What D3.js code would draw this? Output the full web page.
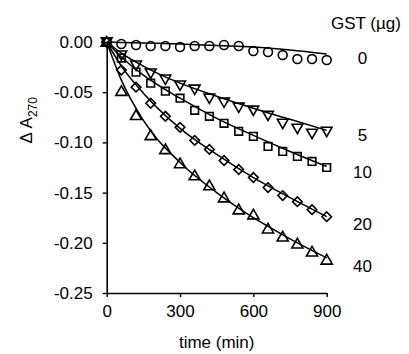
<!DOCTYPE html>
<html>
<head>
<meta charset="utf-8">
<script src="https://cdn.jsdelivr.net/npm/d3@7"></script>
<style>
  html, body { margin: 0; padding: 0; background: #fff; }
  text { font-family: Arial, "Liberation Sans", sans-serif; fill: #000; }
</style>
</head>
<body>
<div id="chart"></div>
<script>
// measured points, every 60 min
const times = [0, 60, 120, 180, 240, 300, 360, 420, 480, 540, 600, 660, 720, 780, 840, 900];
const gst0  = [0, -0.002, -0.003, -0.004, -0.004, -0.005, -0.004, -0.004, -0.003, -0.004, -0.009, -0.010, -0.013, -0.017, -0.017, -0.018];
const gst5  = [0, -0.013, -0.023, -0.031, -0.037, -0.043, -0.047, -0.056, -0.060, -0.065, -0.068, -0.073, -0.081, -0.086, -0.091, -0.089];
const gst10 = [0, -0.016, -0.030, -0.041, -0.049, -0.056, -0.068, -0.074, -0.081, -0.089, -0.094, -0.104, -0.109, -0.114, -0.119, -0.125];
const gst20 = [0, -0.028, -0.045, -0.061, -0.074, -0.085, -0.098, -0.107, -0.118, -0.127, -0.135, -0.145, -0.153, -0.159, -0.167, -0.174];
const gst40 = [0, -0.049, -0.073, -0.093, -0.107, -0.121, -0.133, -0.143, -0.155, -0.167, -0.172, -0.186, -0.194, -0.201, -0.209, -0.217];

// fitted curves
const fitTimes = [0, 60, 150, 300, 450, 600, 750, 900];
const fit0  = [0, -0.0004, -0.001, -0.002, -0.0035, -0.005, -0.008, -0.012];
const fit5  = [0, -0.011, -0.024, -0.041, -0.054, -0.066, -0.077, -0.088];
const fit10 = [0, -0.015, -0.033, -0.056, -0.076, -0.093, -0.109, -0.124];
const fit20 = [0, -0.024, -0.051, -0.086, -0.112, -0.135, -0.155, -0.174];
const fit40 = [0, -0.038, -0.078, -0.120, -0.150, -0.175, -0.196, -0.215];

const seriesNames = ["0", "5", "10", "20", "40"];
const xTicks = [0, 300, 600, 900];
const yTicks = [0, -0.05, -0.10, -0.15, -0.20, -0.25];

const width = 409, height = 354;
const margin = { left: 106.7, right: 82.3, top: 42, bottom: 61 };
const fontSize = "17px";

const svg = d3.select("#chart").append("svg")
    .attr("width", width)
    .attr("height", height);

const x = d3.scaleLinear().domain([0, 900]).range([margin.left, width - margin.right]);
const y = d3.scaleLinear().domain([-0.25, 0]).range([height - margin.bottom, margin.top]);

// axes
const xAxis = svg.append("g")
    .attr("transform", `translate(0,${y(-0.25)})`)
    .call(d3.axisBottom(x).tickValues(xTicks).tickSize(4).tickPadding(8).tickSizeOuter(0));
const yAxis = svg.append("g")
    .attr("transform", `translate(${x(0)},0)`)
    .call(d3.axisLeft(y).tickValues(yTicks).tickFormat(d3.format(".2f")).tickSize(4).tickPadding(10).tickSizeOuter(0));

[xAxis, yAxis].forEach(g => {
    g.select(".domain").attr("stroke", "#000").attr("stroke-width", 1.6);
    g.selectAll(".tick line").attr("stroke", "#000").attr("stroke-width", 1.4);
    g.selectAll(".tick text").style("font-size", fontSize).attr("font-family", "Arial, 'Liberation Sans', sans-serif");
});
yAxis.selectAll(".tick text").text(d => d3.format(".2f")(d).replace("−", "-"));

// axis titles
svg.append("text")
    .attr("x", x(450))
    .attr("y", 348)
    .attr("text-anchor", "middle")
    .style("font-size", fontSize)
    .text("time (min)");

const yl = svg.append("text")
    .attr("transform", `translate(32,${y(-0.078)}) rotate(-90)`)
    .attr("text-anchor", "middle")
    .style("font-size", fontSize);
yl.append("tspan").text("Δ A");
yl.append("tspan").attr("dy", 5).style("font-size", "12px").text("270");

// fitted lines
const fits = [fit0, fit5, fit10, fit20, fit40];
const line = d3.line()
    .x((d, i) => x(fitTimes[i]))
    .y(d => y(d))
    .curve(d3.curveMonotoneX);

svg.append("g").selectAll("path")
    .data(fits)
    .join("path")
    .attr("d", line)
    .attr("fill", "none")
    .attr("stroke", "#000")
    .attr("stroke-width", 1.5);

// markers
const symbols = [
    { type: d3.symbolCircle, size: 62, rot: 0 },
    { type: d3.symbolTriangle, size: 50, rot: 180 },
    { type: d3.symbolSquare, size: 58, rot: 0 },
    { type: d3.symbolSquare, size: 46, rot: 45 },
    { type: d3.symbolTriangle, size: 54, rot: 0 }
];
const allData = [gst0, gst5, gst10, gst20, gst40];

allData.forEach((vals, s) => {
    const sym = symbols[s];
    const path = d3.symbol().type(sym.type).size(sym.size)();
    svg.append("g").selectAll("path")
        .data(vals)
        .join("path")
        .attr("d", path)
        .attr("transform", (d, i) => {
            // shift triangles so the centre of the box sits on the value
            let dy = 0;
            if (sym.type === d3.symbolTriangle) dy = sym.rot === 180 ? -1 : 1;
            return `translate(${x(times[i])},${y(d) + dy}) rotate(${sym.rot})`;
        })
        .attr("fill", "none")
        .attr("stroke", "#000")
        .attr("stroke-width", 1.6);
});

// right hand labels
svg.append("text")
    .attr("x", 331)
    .attr("y", 29)
    .style("font-size", fontSize)
    .text("GST (µg)");

const labelY = [58, 135, 172, 224, 266];
svg.append("g").selectAll("text")
    .data(seriesNames)
    .join("text")
    .attr("x", 362.5)
    .attr("y", (d, i) => labelY[i])
    .attr("dy", "0.35em")
    .attr("text-anchor", "middle")
    .style("font-size", fontSize)
    .text(d => d);
</script>
</body>
</html>
